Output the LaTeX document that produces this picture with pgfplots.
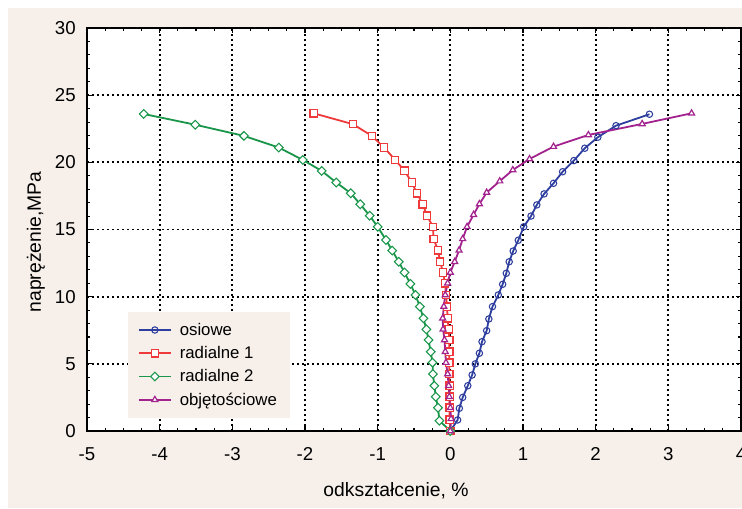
\documentclass[border=0pt]{standalone}
\usepackage{fontspec}
\setmainfont{Liberation Sans}
\usepackage{pgfplots}
\pgfplotsset{compat=1.18}
\definecolor{bg}{HTML}{F7F0EA}
\definecolor{cblue}{HTML}{2E3E9E}
\definecolor{cred}{HTML}{EE3A3A}
\definecolor{cgreen}{HTML}{19964A}
\definecolor{cpurple}{HTML}{A3238E}
\begin{document}
\begin{tikzpicture}
\clip (-65.25pt,-57.75pt) rectangle (491.25pt,323.25pt);
\fill[white] (-65.25pt,-57.75pt) rectangle (491.25pt,323.25pt);
\fill[bg] (-59.25pt,-57.75pt) rectangle (491.25pt,317.25pt);
\begin{axis}[
  at={(0pt,0pt)}, anchor=south west,
  scale only axis, width=490.5pt, height=302.25pt,
  xmin=-5, xmax=4, ymin=0, ymax=30,
  xtick={-5,-4,...,4}, ytick={0,5,...,30},
  minor x tick num=3, minor y tick num=4,
  tick align=inside,
  major tick length=4pt, minor tick length=2.5pt,
  every tick/.style={black, line width=0.8pt},
  axis line style={black, line width=1.2pt},
  axis background/.style={fill=white},
  grid=major,
  major grid style={black, line width=1.4pt, dash pattern=on 1.4pt off 2.35pt},
  /pgf/number format/assume math mode=true,
  tick label style={font=\fontsize{14}{16}\selectfont},
  xticklabel style={inner sep=0pt, yshift=-12pt},
  yticklabel style={inner sep=0pt, xshift=-8.25pt},
  xlabel={odkształcenie, \%},
  ylabel={naprężenie,MPa},
  label style={font=\fontsize{14.5}{17}\selectfont},
  xlabel style={at={(axis description cs:0.4725,0)}, anchor=center, yshift=-45pt},
  ylabel style={at={(axis description cs:-0.078,0.469)}, anchor=center},
  legend cell align=left,
  legend style={at={(axis cs:-4.44,8.86)}, anchor=north west, fill=bg, draw=none,
    font=\fontsize{12.6}{15}\selectfont, row sep=2.8pt, inner xsep=7.5pt, inner ysep=6pt},
  legend image code/.code={\draw[mark repeat=2,mark phase=2] plot coordinates {(0pt,0pt) (12pt,0pt) (24pt,0pt)}; \path (28pt,0pt);},
]
\addplot[cblue, line width=1.35pt, mark=o, mark size=2.4pt, mark options={fill=white, line width=0.8pt}] coordinates {
(0,0) (0.10,0.82) (0.124,1.69) (0.17,2.5) (0.24,3.37) (0.30,4.17) (0.344,5.0) (0.40,5.79)
(0.436,6.65) (0.50,7.47) (0.53,8.34) (0.58,9.26) (0.66,10.13) (0.72,10.92) (0.77,11.74)
(0.81,12.6) (0.865,13.4) (0.935,14.2) (1.01,15.2) (1.11,16.0) (1.19,16.83) (1.29,17.65)
(1.42,18.44) (1.545,19.3) (1.70,20.13) (1.85,21.05) (2.03,21.87) (2.28,22.73) (2.74,23.58)
};
\addlegendentry{osiowe}
\addplot[cred, line width=1.35pt, mark=square*, mark size=2.75pt, mark options={fill=white, line width=0.9pt}] coordinates {
(0,0) (-0.01,0.85) (-0.01,1.73) (-0.01,2.55) (-0.01,3.37) (-0.015,4.24) (-0.015,5.09)
(-0.015,5.9) (-0.015,6.78) (-0.023,7.57) (-0.037,8.39) (-0.045,9.26) (-0.06,10.13)
(-0.073,11.0) (-0.10,11.8) (-0.14,12.6) (-0.17,13.45) (-0.23,14.3) (-0.24,15.2)
(-0.32,16.03) (-0.38,16.88) (-0.46,17.7) (-0.53,18.5) (-0.63,19.38) (-0.76,20.18)
(-0.91,21.1) (-1.08,21.97) (-1.34,22.84) (-1.88,23.65)
};
\addlegendentry{radialne 1}
\addplot[cgreen, line width=1.35pt, mark=square*, mark size=2.3pt, mark options={fill=white, line width=0.8pt, rotate=45}] coordinates {
(0,0) (-0.15,0.77) (-0.17,1.73) (-0.20,2.55) (-0.22,3.37) (-0.24,4.24) (-0.245,5.09)
(-0.27,5.9) (-0.30,6.78) (-0.33,7.57) (-0.37,8.39) (-0.42,9.26) (-0.48,10.13)
(-0.55,10.95) (-0.63,11.8) (-0.71,12.6) (-0.80,13.43) (-0.885,14.22) (-1.0,15.2)
(-1.11,16.03) (-1.24,16.88) (-1.37,17.7) (-1.57,18.5) (-1.77,19.36) (-2.03,20.18)
(-2.36,21.1) (-2.84,21.97) (-3.51,22.8) (-4.22,23.6)
};
\addlegendentry{radialne 2}
\addplot[cpurple, line width=1.35pt, mark=triangle*, mark size=2.6pt, mark options={fill=white, line width=0.9pt}] coordinates {
(0,0) (0.01,0.9) (0.0,1.73) (-0.014,2.55) (-0.023,3.37) (-0.037,4.24) (-0.06,5.09)
(-0.07,5.9) (-0.08,6.78) (-0.10,7.57) (-0.105,8.39) (-0.09,9.26) (-0.07,10.13)
(-0.037,11.0) (0.0,11.8) (0.06,12.6) (0.12,13.45) (0.17,14.3) (0.23,15.2) (0.32,16.1)
(0.40,16.9) (0.50,17.75) (0.68,18.6) (0.86,19.43) (1.09,20.25) (1.42,21.17)
(1.90,22.04) (2.64,22.86) (3.32,23.65)
};
\addlegendentry{objętościowe}
\end{axis}
\end{tikzpicture}
\end{document}
